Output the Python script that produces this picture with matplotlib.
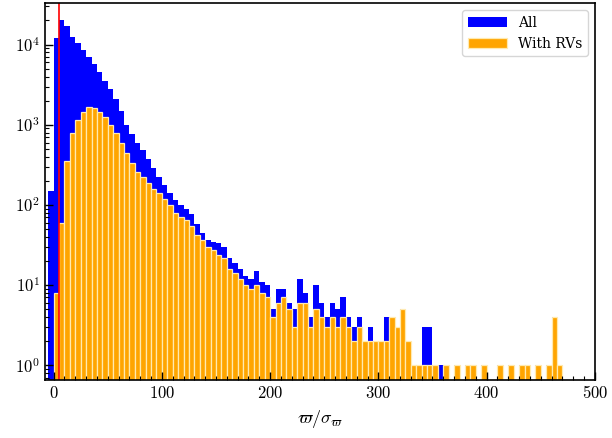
import numpy as np
import matplotlib
matplotlib.use("Agg")
import matplotlib.pyplot as plt
from matplotlib.ticker import FuncFormatter, MultipleLocator, LogLocator

plt.rcParams["font.family"] = "serif"
plt.rcParams["font.serif"] = ["DejaVu Serif"]
plt.rcParams["mathtext.fontset"] = "cm"

# histogram bins of parallax S/N, width 5
bin_edges = np.arange(-5, 480, 5)

# counts for the full sample
counts_all = [
    150, 12000, 20000, 17000, 12500, 10500, 8500, 7000, 5700, 4600,
    3500, 2800, 2100, 1500, 1000, 760, 600, 480, 370, 290,
    225, 175, 140, 115, 100, 88, 78, 58, 45, 37,
    34, 33, 30, 22, 19, 16, 13, 12, 15, 11,
    10, 5, 9, 9, 6, 5, 12, 8, 4, 10,
    6, 4, 6, 5, 7, 4, 3, 4, 2, 3,
    2, 2, 4, 4, 3, 5, 2, 1, 1, 3,
    3, 1, 1, 1, 0, 1, 0, 1, 1, 0,
    1, 0, 0, 1, 0, 1, 0, 1, 1, 0,
    1, 0, 1, 4, 1, 0,
]

# counts for stars with radial velocities
counts_rv = [
    0, 8, 60, 350, 800, 1150, 1450, 1650, 1600, 1450,
    1250, 1000, 780, 600, 440, 330, 260, 220, 190, 160,
    140, 120, 100, 80, 70, 65, 55, 42, 36, 30,
    27, 24, 22, 16, 14, 12, 10, 9, 10, 8,
    7, 4, 6, 7, 5, 3, 6, 6, 3, 5,
    4, 3, 4, 3, 4, 3, 2, 3, 2, 2,
    2, 2, 2, 4, 3, 5, 2, 1, 1, 1,
    1, 1, 0, 1, 0, 1, 0, 1, 1, 0,
    1, 0, 0, 1, 0, 1, 0, 1, 1, 0,
    1, 0, 1, 4, 1, 0,
]

snr_cut = 5
labels = ["All", "With RVs"]

fig, ax = plt.subplots(figsize=(6.12, 4.38), dpi=100)
plt.subplots_adjust(left=0.0735, right=0.972, top=0.993, bottom=0.132)

centers = 0.5 * (bin_edges[:-1] + bin_edges[1:])
ax.hist(centers, bins=bin_edges, weights=counts_all, color="#0000ff",
        label=labels[0], log=True)
ax.hist(centers, bins=bin_edges, weights=counts_rv, color="orange",
        edgecolor="#ffeab0", linewidth=0.9, label=labels[1], log=True)
ax.axvline(snr_cut, color="red", lw=1.2)

ax.set_yscale("log")
ax.set_xlim(-8, 500)
ax.set_ylim(0.65, 33000)

ax.xaxis.set_major_locator(MultipleLocator(100))
ax.xaxis.set_minor_locator(MultipleLocator(10))
ax.xaxis.set_major_formatter(FuncFormatter(lambda v, p: f"${v:g}$"))
ax.yaxis.set_major_locator(LogLocator(base=10))
ax.yaxis.set_minor_locator(LogLocator(base=10, subs=np.arange(2, 10)))
ax.yaxis.set_major_formatter(
    FuncFormatter(lambda v, p: f"$10^{{{int(round(np.log10(v)))}}}$"))
ax.tick_params(which="both", direction="in", labelsize=12)
ax.tick_params(which="major", length=6, width=1)
ax.tick_params(which="minor", length=3, width=0.8)
for s in ax.spines.values():
    s.set_linewidth(1.2)

ax.set_xlabel(r"$\varpi/\sigma_\varpi$", fontsize=13)
ax.legend(loc="upper right", fontsize=10, handlelength=2.8)

fig.savefig("out.png", dpi=100)
